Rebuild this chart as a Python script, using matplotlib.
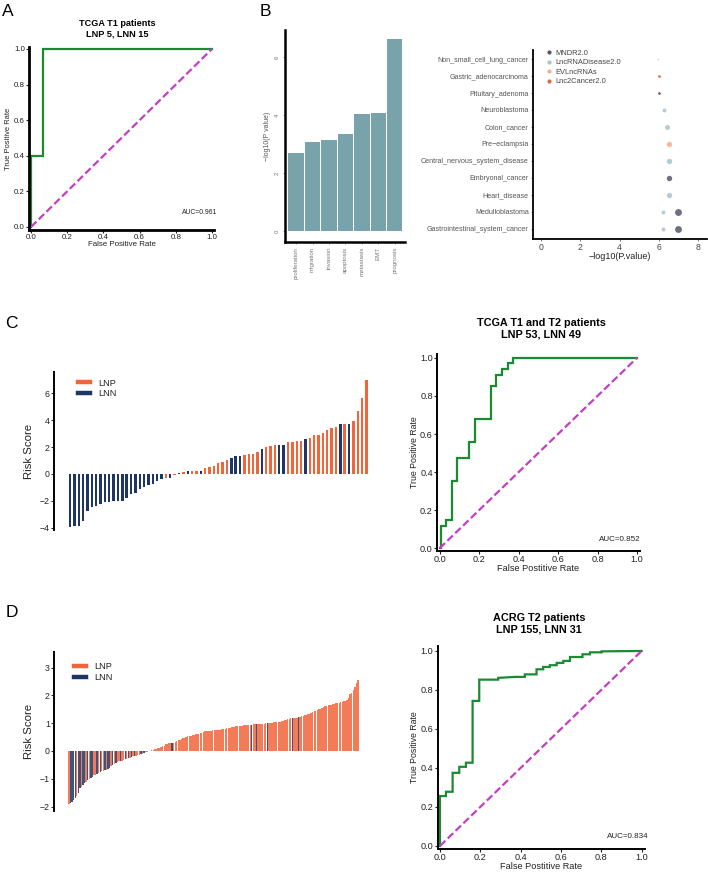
import matplotlib
matplotlib.use("Agg")
import matplotlib.pyplot as plt
from matplotlib.lines import Line2D

plt.rcParams['font.family'] = ['Liberation Sans', 'DejaVu Sans']

# ---------------- data ----------------
# A: ROC, TCGA T1
a_fpr = [0.0, 0.0, 0.067, 0.067, 1.0]
a_tpr = [0.0, 0.4, 0.4, 1.0, 1.0]

# B: enrichment bars
b_terms = ["proliferation", "migration", "invasion", "apoptosis", "metastasis", "EMT", "prognosis"]
b_logp = [2.69, 3.07, 3.14, 3.34, 4.03, 4.06, 6.62]

# B: disease dot plot (bottom -> top)
dis_order = ["Gastrointestinal_system_cancer", "Medulloblastoma", "Heart_disease", "Embryonal_cancer",
             "Central_nervous_system_disease", "Pre\u2212eclampsia", "Colon_cancer", "Neuroblastoma",
             "Pituitary_adenoma", "Gastric_adenocarcinoma", "Non_small_cell_lung_cancer"]
dot_disease = ["Non_small_cell_lung_cancer", "Gastric_adenocarcinoma", "Pituitary_adenoma", "Pituitary_adenoma",
               "Neuroblastoma", "Colon_cancer", "Pre\u2212eclampsia", "Central_nervous_system_disease",
               "Embryonal_cancer", "Heart_disease", "Medulloblastoma", "Medulloblastoma",
               "Gastrointestinal_system_cancer", "Gastrointestinal_system_cancer"]
dot_db = ["EVLncRNAs", "Lnc2Cancer2.0", "Lnc2Cancer2.0", "MNDR2.0", "LncRNADisease2.0", "LncRNADisease2.0",
          "EVLncRNAs", "LncRNADisease2.0", "MNDR2.0", "LncRNADisease2.0", "LncRNADisease2.0", "MNDR2.0",
          "LncRNADisease2.0", "MNDR2.0"]
dot_logp = [5.94, 5.99, 5.99, 5.99, 6.26, 6.39, 6.49, 6.49, 6.49, 6.49, 6.19, 6.99, 6.19, 6.99]
dot_count = [1.5, 3, 2.5, 2.5, 4, 5, 5.5, 5.5, 5.5, 5.5, 4, 7, 4, 7]
db_names = ["MNDR2.0", "LncRNADisease2.0", "EVLncRNAs", "Lnc2Cancer2.0"]

# C: risk score waterfall, TCGA
c_risk = [-3.92, -3.90, -3.88, -3.50, -2.74, -2.49, -2.39, -2.24, -2.07, -2.07,
          -2.05, -2.05, -2.00, -1.79, -1.49, -1.44, -1.10, -0.97, -0.82, -0.77,
          -0.50, -0.38, -0.30, -0.28, -0.05, 0.10, 0.14, 0.19, 0.20, 0.21,
          0.22, 0.47, 0.55, 0.60, 0.80, 0.92, 1.07, 1.22, 1.30, 1.32,
          1.42, 1.47, 1.52, 1.67, 1.84, 2.04, 2.11, 2.16, 2.16, 2.16,
          2.39, 2.41, 2.46, 2.49, 2.61, 2.71, 2.89, 2.91, 3.08, 3.28,
          3.41, 3.50, 3.71, 3.71, 3.71, 3.96, 4.72, 5.65, 7.00]
c_group = ["LNN"] * 22 + ["LNP", "LNN", "LNP", "LNN", "LNP", "LNN", "LNP", "LNP",
           "LNN", "LNP", "LNP", "LNP", "LNP", "LNP", "LNP", "LNN", "LNN", "LNN",
           "LNP", "LNP", "LNP", "LNP", "LNN", "LNP", "LNP", "LNP", "LNN", "LNN",
           "LNP", "LNP", "LNP", "LNP", "LNN", "LNP", "LNP", "LNP", "LNP", "LNP",
           "LNP", "LNP", "LNN", "LNP", "LNN", "LNP", "LNP", "LNP", "LNP"]

# C: ROC, TCGA T1 + T2
c_fpr = [0.0, 0.005, 0.005, 0.035, 0.035, 0.061, 0.061, 0.089, 0.089, 0.148, 0.148, 0.177, 0.177,
         0.258, 0.258, 0.288, 0.288, 0.317, 0.317, 0.346, 0.346, 0.373, 0.373, 1.0]
c_tpr = [0.0, 0.0, 0.117, 0.117, 0.149, 0.149, 0.353, 0.353, 0.472, 0.472, 0.56, 0.56, 0.677,
         0.677, 0.852, 0.852, 0.911, 0.911, 0.941, 0.941, 0.971, 0.971, 1.0, 1.0]

# D: risk score waterfall, ACRG
d_risk = [-1.90, -1.88, -1.85, -1.78, -1.70, -1.62, -1.50, -1.35, -1.28, -1.22,
          -1.15, -1.10, -1.05, -1.00, -0.96, -0.92, -0.88, -0.85, -0.82, -0.80,
          -0.76, -0.73, -0.71, -0.70, -0.68, -0.66, -0.60, -0.55, -0.50, -0.46,
          -0.43, -0.40, -0.38, -0.36, -0.35, -0.33, -0.30, -0.28, -0.26, -0.24,
          -0.22, -0.20, -0.18, -0.17, -0.16, -0.14, -0.12, -0.10, -0.08, -0.05,
          -0.03, -0.01, 0.01, 0.03, 0.04, 0.06, 0.08, 0.10, 0.12, 0.14,
          0.16, 0.18, 0.24, 0.26, 0.27, 0.28, 0.29, 0.30, 0.33, 0.36,
          0.38, 0.40, 0.42, 0.45, 0.48, 0.50, 0.52, 0.53, 0.55, 0.56,
          0.58, 0.60, 0.60, 0.62, 0.64, 0.66, 0.69, 0.70, 0.72, 0.72,
          0.73, 0.73, 0.74, 0.74, 0.75, 0.76, 0.76, 0.77, 0.78, 0.79,
          0.80, 0.81, 0.83, 0.84, 0.85, 0.86, 0.87, 0.88, 0.89, 0.89,
          0.90, 0.91, 0.92, 0.92, 0.93, 0.93, 0.94, 0.95, 0.96, 0.96,
          0.97, 0.97, 0.97, 0.98, 0.98, 0.98, 0.99, 0.99, 1.00, 1.01,
          1.02, 1.03, 1.04, 1.04, 1.05, 1.05, 1.06, 1.08, 1.10, 1.12,
          1.14, 1.16, 1.18, 1.18, 1.19, 1.20, 1.20, 1.21, 1.22, 1.24,
          1.26, 1.28, 1.30, 1.32, 1.33, 1.35, 1.40, 1.42, 1.45, 1.47,
          1.50, 1.52, 1.55, 1.58, 1.60, 1.63, 1.64, 1.65, 1.66, 1.68,
          1.70, 1.72, 1.73, 1.74, 1.75, 1.77, 1.78, 1.80, 1.84, 1.90,
          2.05, 2.10, 2.20, 2.30, 2.45, 2.55]
d_lnn_idx = [1, 2, 3, 4, 6, 7, 9, 10, 12, 14, 15, 18, 20, 23, 25, 26, 28, 30, 33, 36,
             38, 40, 42, 46, 48, 66, 117, 120, 127, 143, 147]

# D: ROC, ACRG T2
d_fpr = [0.0, 0.0, 0.03, 0.03, 0.063, 0.063, 0.096, 0.096, 0.129, 0.129, 0.162, 0.162, 0.195, 0.195,
         0.289, 0.289, 0.372, 0.421, 0.421, 0.479, 0.479, 0.512, 0.512, 0.545, 0.545, 0.579, 0.579,
         0.612, 0.612, 0.645, 0.645, 0.707, 0.707, 0.744, 0.744, 0.802, 0.802, 1.0]
d_tpr = [0.0, 0.256, 0.256, 0.278, 0.278, 0.375, 0.375, 0.406, 0.406, 0.427, 0.427, 0.744, 0.744, 0.853,
         0.853, 0.862, 0.867, 0.867, 0.88, 0.88, 0.906, 0.906, 0.918, 0.918, 0.927, 0.927, 0.939,
         0.939, 0.949, 0.949, 0.969, 0.969, 0.983, 0.983, 0.993, 0.993, 0.998, 1.0]

# ---------------- style ----------------
W, H = 708, 872
GREEN = "#1b8a35"
MAGENTA = "#c23fc4"
LNP_C = "#f2643a"
LNN_C = "#1f3566"
BAR_C = "#79a3ab"
DB_COLORS = {"MNDR2.0": "#55566a", "LncRNADisease2.0": "#a9c3cc",
             "EVLncRNAs": "#f3b18c", "Lnc2Cancer2.0": "#e0694a"}
TXT = "#222222"

fig = plt.figure(figsize=(W / 100, H / 100), dpi=100)


def px_axes(l, t, r, b):
    return fig.add_axes([l / W, 1 - b / H, (r - l) / W, (b - t) / H])


def clean(ax, lw=1.3):
    for s in ["top", "right"]:
        ax.spines[s].set_visible(False)
    for s in ["left", "bottom"]:
        ax.spines[s].set_linewidth(lw)
        ax.spines[s].set_color("black")


def roc(ax, fpr, tpr, auc, xlab, fs, lw_sp, auc_xy):
    clean(ax, lw_sp)
    ax.plot(fpr, tpr, color=GREEN, lw=1.6, solid_joinstyle="miter")
    ax.plot([0, 1], [0, 1], color=MAGENTA, lw=1.6, ls=(0, (3.4, 1.5)))
    ticks = [0, 0.2, 0.4, 0.6, 0.8, 1.0]
    ax.set_xticks(ticks, ["%.1f" % t for t in ticks])
    ax.set_yticks(ticks, ["%.1f" % t for t in ticks])
    ax.tick_params(labelsize=fs, colors=TXT, length=2, width=0.8, pad=1)
    ax.set_xlabel(xlab, fontsize=fs, color=TXT, labelpad=0)
    ax.set_ylabel("True Positive Rate", fontsize=fs - 0.3, color=TXT, labelpad=1)
    ax.text(auc_xy[0], auc_xy[1], auc, fontsize=fs - 0.8, color=TXT, ha="right", va="center")


# ---- A ----
ax = px_axes(29, 47, 214, 230)
roc(ax, a_fpr, a_tpr, "AUC=0.961", "False Positive Rate", 5.7, 2.0, (1.03, 0.084))
ax.set_xlim(-0.011, 1.011)
ax.set_ylim(-0.017, 1.011)
fig.text(117 / W, 1 - 29 / H, "TCGA T1 patients\nLNP 5, LNN 15", ha="center", va="center",
         fontsize=6.6, fontweight="bold", linespacing=1.2)

# ---- B bars ----
ax = px_axes(285, 30, 405, 242)
clean(ax, 1.8)
ax.bar(range(len(b_terms)), b_logp, width=0.94, color=BAR_C)
ax.set_xlim(-0.68, 6.63)
ax.set_ylim(-0.38, 6.93)
ax.set_xticks(range(len(b_terms)), b_terms, rotation=90)
ax.set_yticks([0, 2, 4, 6], ["0", "2", "4", "6"], rotation=90, va="center")
ax.tick_params(labelsize=4.4, colors="#777777", length=1.5, width=0.5, pad=2)
ax.set_ylabel("\u2212log10(P value)", fontsize=5, color="#555555", labelpad=3)

# ---- B dots ----
ax = px_axes(533, 50, 707, 239)
clean(ax, 1.3)
ymap = {d: i for i, d in enumerate(dis_order)}
for d, db, x, c in zip(dot_disease, dot_db, dot_logp, dot_count):
    ax.scatter(x, ymap[d], s=0.5 * c ** 2, color=DB_COLORS[db], alpha=0.85, linewidths=0, zorder=3)
ax.set_yticks(range(len(dis_order)), dis_order)
ax.set_xticks([0, 2, 4, 6, 8])
ax.set_xlim(-0.41, 8.45)
ax.set_ylim(-0.59, 10.53)
ax.tick_params(axis="y", labelsize=5.1, colors="#555555", length=1.5, width=0.5, pad=1.5)
ax.tick_params(axis="x", labelsize=6.2, colors="#444444", length=1.5, width=0.5, pad=1.5)
ax.set_xlabel("\u2212log10(P.value)", fontsize=6.5, color=TXT, labelpad=0)
handles = [Line2D([], [], marker="o", ls="", color=DB_COLORS[k], markersize=2) for k in db_names]
ax.legend(handles, db_names, loc="upper left", bbox_to_anchor=(0.04, 1.03), frameon=False,
          fontsize=5.4, labelspacing=0.3, handletextpad=0.3, handlelength=1.0, borderpad=0.2,
          labelcolor="#444444")

# ---- C waterfall ----
ax = px_axes(54, 372, 373, 530)
clean(ax, 1.4)
ax.spines["bottom"].set_visible(False)
ax.bar(range(len(c_risk)), c_risk, width=0.55,
       color=[LNP_C if g == "LNP" else LNN_C for g in c_group])
ax.set_xlim(-3.67, 69.5)
ax.set_ylim(-4.18, 7.6)
ax.set_xticks([])
ax.set_yticks([-4, -2, 0, 2, 4, 6])
ax.tick_params(labelsize=6.3, colors=TXT, length=2, width=0.7, pad=1)
ax.set_ylabel("Risk Score", fontsize=8.2, color=TXT, labelpad=4)
lh = [Line2D([], [], color=LNP_C, lw=3.2), Line2D([], [], color=LNN_C, lw=3.2)]
ax.legend(lh, ["LNP", "LNN"], loc="upper left", bbox_to_anchor=(0.05, 1.01), frameon=False,
          fontsize=6.6, handlelength=1.3, handletextpad=0.9, labelspacing=0.15, labelcolor=TXT)

# ---- C ROC ----
ax = px_axes(437, 354, 640, 551)
roc(ax, c_fpr, c_tpr, "AUC=0.852", "False Postitive Rate", 6.6, 1.4, (1.02, 0.044))
ax.set_xlim(-0.013, 1.015)
ax.set_ylim(-0.014, 1.02)
fig.text(541 / W, 1 - 328.5 / H, "TCGA T1 and T2 patients\nLNP 53, LNN 49", ha="center",
         va="center", fontsize=7.8, fontweight="bold", linespacing=1.15)

# ---- D waterfall ----
ax = px_axes(54, 651.7, 360, 810.7)
clean(ax, 1.4)
ax.spines["bottom"].set_visible(False)
d_colors = [LNN_C if i in d_lnn_idx else LNP_C for i in range(len(d_risk))]
ax.bar(range(len(d_risk)), d_risk, width=0.88, color=d_colors, alpha=0.85)
ax.set_xlim(-9.6, 186.3)
ax.set_ylim(-2.15, 3.57)
ax.set_xticks([])
ax.set_yticks([-2, -1, 0, 1, 2, 3])
ax.tick_params(labelsize=6.3, colors=TXT, length=2, width=0.7, pad=1)
ax.set_ylabel("Risk Score", fontsize=8.2, color=TXT, labelpad=4)
ax.legend(lh, ["LNP", "LNN"], loc="upper left", bbox_to_anchor=(0.04, 0.985), frameon=False,
          fontsize=6.6, handlelength=1.3, handletextpad=0.9, labelspacing=0.15, labelcolor=TXT)

# ---- D ROC ----
ax = px_axes(437.7, 645.7, 645, 849.3)
roc(ax, d_fpr, d_tpr, "AUC=0.834", "False Postitive Rate", 6.6, 1.4, (1.033, 0.048))
ax.set_xlim(-0.011, 1.017)
ax.set_ylim(-0.017, 1.027)
fig.text(539 / W, 1 - 624 / H, "ACRG T2 patients\nLNP 155, LNN 31", ha="center",
         va="center", fontsize=7.8, fontweight="bold", linespacing=1.15)

# panel letters
for lab, x, y in [("A", 2, 4), ("B", 260, 4), ("C", 5, 316), ("D", 6, 605)]:
    fig.text(x / W, 1 - y / H, lab, fontsize=12.5, va="top", ha="left")

fig.savefig("out.png", dpi=100)
